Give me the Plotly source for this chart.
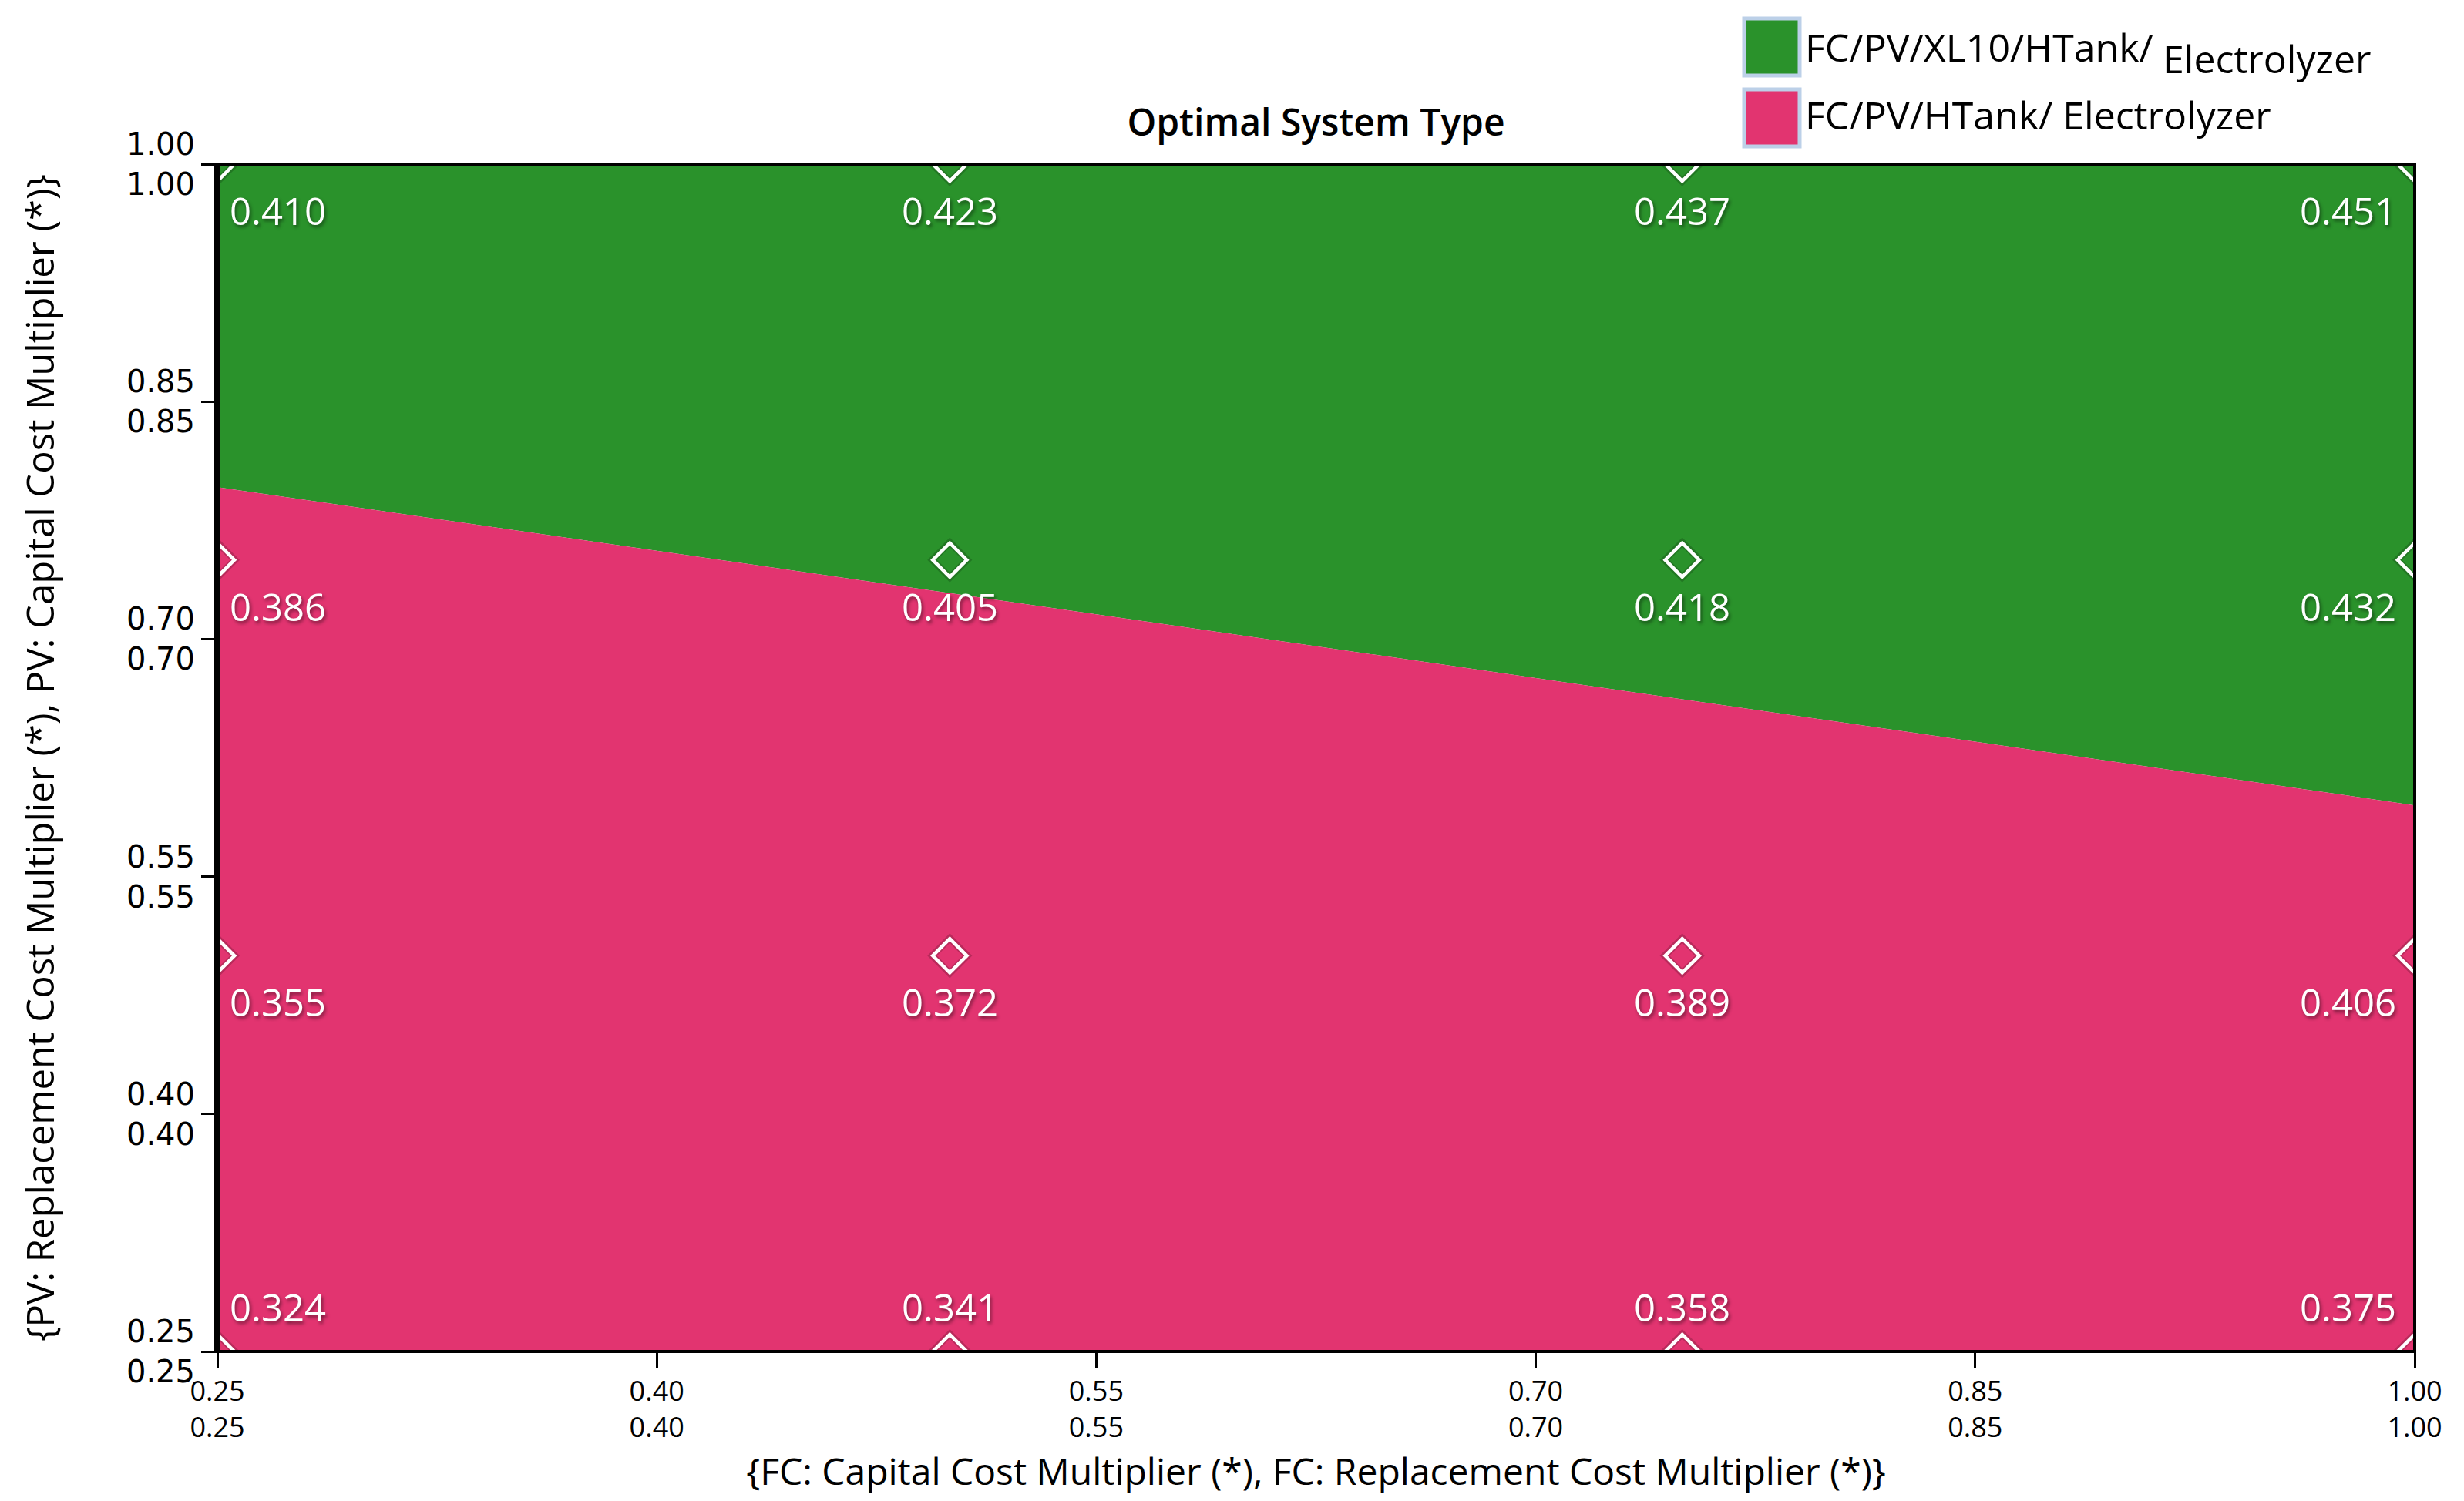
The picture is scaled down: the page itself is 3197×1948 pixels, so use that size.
import plotly.graph_objects as go

# ---------------- data ----------------
x_vals = [0.25, 0.50, 0.75, 1.00]          # FC cost multipliers (sensitivity points)
y_vals = [0.25, 0.50, 0.75, 1.00]          # PV cost multipliers (sensitivity points)
# values[i][j] -> y_vals[i], x_vals[j]
values = [
    [0.324, 0.341, 0.358, 0.375],
    [0.355, 0.372, 0.389, 0.406],
    [0.386, 0.405, 0.418, 0.432],
    [0.410, 0.423, 0.437, 0.451],
]
boundary_x = [0.25, 0.50, 0.75, 1.00]
boundary_y = [0.796, 0.729, 0.662, 0.595]
tick_vals = [0.25, 0.40, 0.55, 0.70, 0.85, 1.00]
tick_labels = ["0.25", "0.40", "0.55", "0.70", "0.85", "1.00"]
system_types = ["FC/PV/XL10/HTank/ Electrolyzer", "FC/PV/HTank/ Electrolyzer"]
colors = ["#2A922B", "#E23470"]

# ---------------- layout geometry ----------------
OFF = 8                      # page body margin
W, H = 3197 - OFF, 1948 - OFF
L, R, T, B = 282 - OFF, 64, 213 - OFF, 194
PW, PH = W - L - R, H - T - B

def px(xp):
    return (xp - OFF - L) / PW

def py(yp):
    return (H - B - (yp - OFF)) / PH

xmin, xmax = min(x_vals), max(x_vals)
ymin, ymax = min(y_vals), max(y_vals)

fig = go.Figure()

# green region (above boundary)
fig.add_trace(go.Scatter(
    x=boundary_x + [xmax, xmin], y=boundary_y + [ymax, ymax],
    fill="toself", fillcolor=colors[0], mode="lines", line=dict(width=0, color=colors[0]),
    name=system_types[0], showlegend=False, hoverinfo="skip"))
# pink region (below boundary)
fig.add_trace(go.Scatter(
    x=boundary_x + [xmax, xmin], y=boundary_y + [ymin, ymin],
    fill="toself", fillcolor=colors[1], mode="lines", line=dict(width=0, color=colors[1]),
    name=system_types[1], showlegend=False, hoverinfo="skip"))

# sensitivity point markers
mx, my = [], []
for i, yv in enumerate(y_vals):
    for j, xv in enumerate(x_vals):
        mx.append(xv)
        my.append(yv)
fig.add_trace(go.Scatter(
    x=mx, y=my, mode="markers", cliponaxis=True, showlegend=False, hoverinfo="skip",
    marker=dict(symbol="diamond-open", size=35, color="rgba(0,0,0,0.18)",
                line=dict(width=9, color="rgba(0,0,0,0.18)"))))
fig.add_trace(go.Scatter(
    x=mx, y=my, mode="markers", cliponaxis=True, showlegend=False,
    marker=dict(symbol="diamond-open", size=34, color="white", line=dict(width=4.5, color="white"))))

# value labels
annotations = []
for i, yv in enumerate(y_vals):
    for j, xv in enumerate(x_vals):
        if j == 0:
            xa, xs = "left", 14
        elif j == len(x_vals) - 1:
            xa, xs = "right", -22
        else:
            xa, xs = "center", 0
        ys = 58 if i == 0 else -60
        annotations.append(dict(
            x=xv, y=yv, xref="x", yref="y", text=f"{values[i][j]:.3f}", showarrow=False,
            xanchor=xa, yanchor="middle", xshift=xs, yshift=ys,
            font=dict(family="Open Sans", size=49, color="white",
                      shadow="2px 3px 4px rgba(0,0,0,0.45)")))

# manual legend
legend_font = dict(family="Open Sans", size=50, color="black")
sw = [(24, 98), (116, 190)]
shapes = []
for k in range(2):
    y0, y1 = sw[k]
    shapes.append(dict(type="rect", xref="paper", yref="paper",
                       x0=px(2263), x1=px(2335), y0=py(y1), y1=py(y0),
                       line=dict(color="#BCD0E8", width=5), fillcolor=colors[k], layer="above"))
annotations.append(dict(xref="paper", yref="paper", x=px(2340), y=py(61), text="FC/PV/XL10/HTank/",
                        showarrow=False, xanchor="left", yanchor="middle", font=legend_font))
annotations.append(dict(xref="paper", yref="paper", x=px(2804), y=py(76), text="Electrolyzer",
                        showarrow=False, xanchor="left", yanchor="middle", font=legend_font))
annotations.append(dict(xref="paper", yref="paper", x=px(2340), y=py(149), text="FC/PV/HTank/ Electrolyzer",
                        showarrow=False, xanchor="left", yanchor="middle", font=legend_font))

# plot frame
shapes.append(dict(type="rect", xref="paper", yref="paper", x0=0, x1=1, y0=0, y1=1,
                   line=dict(color="black", width=4), layer="above"))
shapes.append(dict(type="line", xref="paper", yref="paper", x0=0, x1=0, y0=0, y1=1,
                   line=dict(color="black", width=8), layer="above"))

axis_common = dict(
    range=[0.25, 1.00], tickvals=tick_vals,
    ticktext=[f"{t}<br>{t}" for t in tick_labels],
    ticks="outside", ticklen=20, tickwidth=3, tickcolor="black",
    showgrid=False, zeroline=False, showline=False,
)

fig.update_layout(
    width=W, height=H,
    margin=dict(l=L, r=R, t=T, b=B, autoexpand=False),
    paper_bgcolor="white", plot_bgcolor="white",
    title=dict(text="Optimal System Type", x=0.5, xref="paper", y=1 - (159 - OFF) / H, yref="container",
               xanchor="center", yanchor="middle",
               font=dict(family="Open Sans", size=48, color="black", weight=600)),
    xaxis=dict(**axis_common,
               tickfont=dict(family="Liberation Sans Narrow, Open Sans", size=36, color="black"),
               title=dict(text="{FC: Capital Cost Multiplier (*), FC: Replacement Cost Multiplier (*)}",
                          font=dict(family="Open Sans", size=48, color="black"), standoff=6)),
    yaxis=dict(**axis_common,
               tickfont=dict(family="DejaVu Sans", size=40, color="black"),
               title=dict(text="{PV: Replacement Cost Multiplier (*), PV: Capital Cost Multiplier (*)}",
                          font=dict(family="Open Sans", size=49, color="black"), standoff=77)),
    shapes=shapes,
    annotations=annotations,
    showlegend=False,
)

fig.write_html("out.html")
